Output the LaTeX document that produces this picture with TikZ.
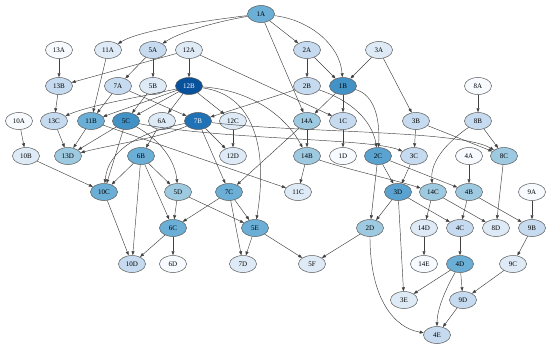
\documentclass[tikz,border=0pt]{standalone}
\usepackage{fontspec}
\setmainfont{Liberation Serif}
\usetikzlibrary{arrows.meta,shapes.geometric}
\definecolor{bl0}{HTML}{F7FBFF}
\definecolor{bl1}{HTML}{DEEBF7}
\definecolor{bl2}{HTML}{C6DBEF}
\definecolor{bl3}{HTML}{9ECAE1}
\definecolor{bl4}{HTML}{6BAED6}
\definecolor{bl45}{HTML}{5AA2D0}
\definecolor{bl5}{HTML}{4292C6}
\definecolor{bl6}{HTML}{2171B5}
\definecolor{bl7}{HTML}{08519C}
\tikzset{
  gnode/.style={ellipse,draw=black!65,line width=0.5pt,minimum width=27pt,minimum height=17pt,inner sep=0pt,font=\fontsize{7}{8}\selectfont},
  b0/.style={gnode,fill=bl0},
  b1/.style={gnode,fill=bl1},
  b2/.style={gnode,fill=bl2},
  b3/.style={gnode,fill=bl3},
  b4/.style={gnode,fill=bl4},
  b45/.style={gnode,fill=bl45},
  b5/.style={gnode,fill=bl5},
  b6/.style={gnode,fill=bl6,text=white},
  b7/.style={gnode,fill=bl7,text=white},
  edge/.style={draw=black!75,line width=0.45pt,-{Triangle[length=4pt,width=3pt]}}
}
\begin{document}
\begin{tikzpicture}[x=1pt,y=-1pt]
\useasboundingbox (0,0) rectangle (550,348);
% top rows
\node[b4] (n1A) at (261,14) {1A};
\node[b0] (n13A) at (59,50) {13A};
\node[b1] (n11A) at (108,50) {11A};
\node[b2] (n5A) at (153,50) {5A};
\node[b1] (n12A) at (189,50) {12A};
\node[b2] (n2A) at (307,50) {2A};
\node[b1] (n3A) at (379,50) {3A};
\node[b2] (n13B) at (59,86) {13B};
\node[b2] (n7A) at (118,86) {7A};
\node[b1] (n5B) at (153,86) {5B};
\node[b7] (n12B) at (189,86) {12B};
\node[b2] (n2B) at (307,86) {2B};
\node[b5] (n1B) at (343,86) {1B};
\node[b0] (n8A) at (478,86) {8A};
\node[b0] (n10A) at (19,121) {10A};
\node[b2] (n13C) at (54,121) {13C};
\node[b4] (n11B) at (91,121) {11B};
\node[b5] (n5C) at (126,121) {5C};
\node[b1] (n6A) at (162,121) {6A};
\node[b6] (n7B) at (198,121) {7B};
\node[b1] (n12C) at (233,121) {12C};
\node[b3] (n14A) at (307,121) {14A};
\node[b2] (n1C) at (343,121) {1C};
\node[b2] (n3B) at (416,121) {3B};
\node[b2] (n8B) at (478,121) {8B};
% middle rows
\node[b1] (n10B) at (26,156) {10B};
\node[b3] (n13D) at (68,156) {13D};
\node[b4] (n6B) at (141,156) {6B};
\node[b1] (n12D) at (233,156) {12D};
\node[b3] (n14B) at (307,156) {14B};
\node[b0] (n1D) at (343,156) {1D};
\node[b45] (n2C) at (378,156) {2C};
\node[b2] (n3C) at (414,156) {3C};
\node[b0] (n4A) at (469,156) {4A};
\node[b3] (n8C) at (504,156) {8C};
\node[b4] (n10C) at (104,192) {10C};
\node[b3] (n5D) at (178,192) {5D};
\node[b4] (n7C) at (229,192) {7C};
\node[b1] (n11C) at (298,192) {11C};
\node[b45] (n3D) at (398,192) {3D};
\node[b3] (n14C) at (433,192) {14C};
\node[b3] (n4B) at (469,192) {4B};
\node[b0] (n9A) at (532,192) {9A};
% bottom rows
\node[b4] (n6C) at (173,228) {6C};
\node[b4] (n5E) at (255,228) {5E};
\node[b3] (n2D) at (370,228) {2D};
\node[b1] (n14D) at (424,228) {14D};
\node[b2] (n4C) at (460,228) {4C};
\node[b1] (n8D) at (496,228) {8D};
\node[b2] (n9B) at (532,228) {9B};
\node[b2] (n10D) at (132,264) {10D};
\node[b0] (n6D) at (173,264) {6D};
\node[b1] (n7D) at (243,264) {7D};
\node[b1] (n5F) at (312,264) {5F};
\node[b0] (n14E) at (424,264) {14E};
\node[b4] (n4D) at (460,264) {4D};
\node[b1] (n9C) at (513,264) {9C};
\node[b1] (n3E) at (404,300) {3E};
\node[b2] (n9D) at (463,300) {9D};
\node[b2] (n4E) at (437,335) {4E};
% straight edges
\draw[edge] (n1A) -- (n2A);
\draw[edge] (n1A) -- (n14A);
\draw[edge] (n5A) -- (n7A);
\draw[edge] (n5A) -- (n5B);
\draw[edge] (n13A) -- (n13B);
\draw[edge] (n11A) -- (n11B);
\draw[edge] (n12A) -- (n13B);
\draw[edge] (n12A) -- (n12B);
\draw[edge] (n12A) -- (n1C);
\draw[edge] (n2A) -- (n2B);
\draw[edge] (n2A) -- (n1B);
\draw[edge] (n3A) -- (n1B);
\draw[edge] (n3A) -- (n3B);
\draw[edge] (n8A) -- (n8B);
\draw[edge] (n13B) -- (n13C);
\draw[edge] (n7A) -- (n11B);
\draw[edge] (n7A) -- (n7B);
\draw[edge] (n5B) -- (n5C);
\draw[edge] (n12B) .. controls (150,95) and (90,105) .. (n13C);
\draw[edge] (n12B) -- (n11B);
\draw[edge] (n12B) -- (n5C);
\draw[edge] (n12B) -- (n6A);
\draw[edge] (n12B) -- (n12C);
\draw[edge] (n2B) -- (n7B);
\draw[edge] (n1B) -- (n14A);
\draw[edge] (n1B) -- (n1C);
\draw[edge] (n10A) -- (n10B);
\draw[edge] (n13C) -- (n13D);
\draw[edge] (n11B) -- (n13D);
\draw[edge] (n11B) -- (n11C);
\draw[edge] (n5C) -- (n13D);
\draw[edge] (n5C) -- (n10C);
\draw[edge] (n6A) -- (n6B);
\draw[edge] (n7B) -- (n7C);
\draw[edge] (n7B) -- (n12D);
\draw[edge] (n12C) -- (n12D);
\draw[edge] (n14A) -- (n14B);
\draw[edge] (n14A) -- (n7C);
\draw[edge] (n1C) -- (n1D);
\draw[edge] (n3B) -- (n3C);
\draw[edge] (n3B) -- (n8C);
\draw[edge] (n8B) -- (n8C);
\draw[edge] (n10B) -- (n10C);
\draw[edge] (n6B) -- (n10C);
\draw[edge] (n6B) -- (n5D);
\draw[edge] (n6B) -- (n6C);
\draw[edge] (n6B) -- (n10D);
\draw[edge] (n14B) -- (n11C);
\draw[edge] (n2C) -- (n3D);
\draw[edge] (n2C) -- (n2D);
\draw[edge] (n2C) -- (n4B);
\draw[edge] (n3C) -- (n3D);
\draw[edge] (n4A) -- (n4B);
\draw[edge] (n8C) -- (n8D);
\draw[edge] (n10C) -- (n10D);
\draw[edge] (n5D) -- (n6C);
\draw[edge] (n5D) -- (n5E);
\draw[edge] (n7C) -- (n6C);
\draw[edge] (n7C) -- (n5E);
\draw[edge] (n7C) -- (n7D);
\draw[edge] (n3D) -- (n2D);
\draw[edge] (n3D) -- (n3E);
\draw[edge] (n3D) -- (n4C);
\draw[edge] (n14C) -- (n14D);
\draw[edge] (n14C) -- (n8D);
\draw[edge] (n4B) -- (n4C);
\draw[edge] (n4B) -- (n9B);
\draw[edge] (n9A) -- (n9B);
\draw[edge] (n6C) -- (n10D);
\draw[edge] (n6C) -- (n6D);
\draw[edge] (n5E) -- (n7D);
\draw[edge] (n5E) -- (n5F);
\draw[edge] (n2D) -- (n5F);
\draw[edge] (n14D) -- (n14E);
\draw[edge] (n4C) -- (n4D);
\draw[edge] (n9B) -- (n9C);
\draw[edge] (n4D) -- (n3E);
\draw[edge] (n4D) -- (n9D);
\draw[edge] (n9C) -- (n9D);
\draw[edge] (n9D) -- (n4E);
% curved edges
\draw[edge] (n1A) .. controls (210,20) and (140,30) .. (n11A);
\draw[edge] (n1A) .. controls (215,22) and (180,32) .. (n5A);
\draw[edge] (n1A) .. controls (310,20) and (340,45) .. (n1B);
\draw[edge] (n12B) .. controls (250,90) and (285,115) .. (n14B);
\draw[edge] (n12B) .. controls (255,95) and (268,150) .. (n5E);
\draw[edge] (n7B) .. controls (160,138) and (110,145) .. (n13D);
\draw[edge] (n7B) .. controls (140,132) and (108,150) .. (n10C);
\draw[edge] (n5C) .. controls (160,140) and (175,160) .. (n5D);
\draw[edge] (n5C) .. controls (220,140) and (370,138) .. (n3C);
\draw[edge] (n7B) .. controls (300,133) and (460,130) .. (n8C);
\draw[edge] (n1B) .. controls (375,95) and (380,120) .. (n2C);
\draw[edge] (n2B) .. controls (350,100) and (372,120) .. (n2C);
\draw[edge] (n8B) .. controls (450,140) and (430,160) .. (n14C);
\draw[edge] (n14B) .. controls (350,170) and (395,180) .. (n14C);
\draw[edge] (n2D) .. controls (370,300) and (395,328) .. (n4E);
\draw[edge] (n4D) .. controls (445,290) and (437,310) .. (n4E);
\end{tikzpicture}
\end{document}
